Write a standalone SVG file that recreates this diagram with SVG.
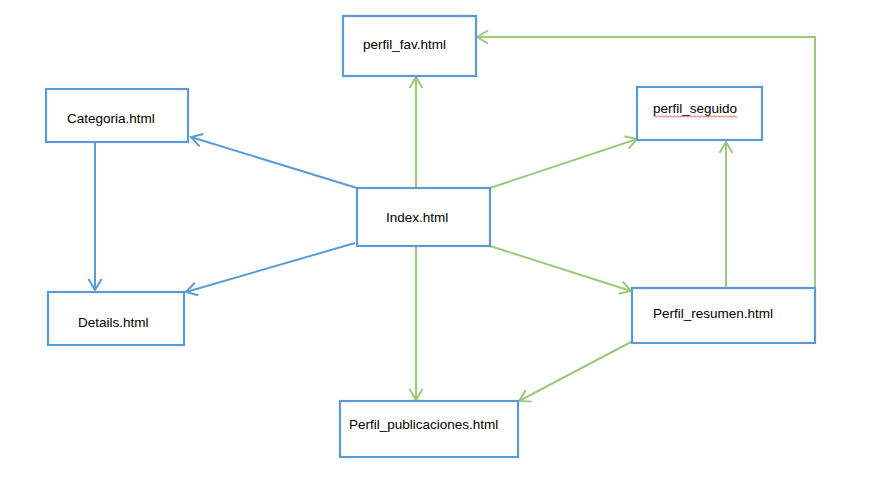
<svg xmlns="http://www.w3.org/2000/svg" width="891" height="482" viewBox="0 0 891 482">
<style>
.box{fill:#fff;stroke:#5B9BD5;stroke-width:2.2}
.lbl{font-family:"Liberation Sans",Arial,sans-serif;font-size:13.5px;fill:#000}
.b{fill:none;stroke:#5B9BD5;stroke-width:2}
.g{fill:none;stroke:#9CC97E;stroke-width:2}
</style>
<defs>
<marker id="ab" markerUnits="userSpaceOnUse" markerWidth="20" markerHeight="20" refX="0" refY="0" viewBox="-14 -10 18 20" orient="auto" overflow="visible">
<path d="M-11,-6.5 L0,0 L-11,6.5" fill="none" stroke="#5B9BD5" stroke-width="2"/>
</marker>
<marker id="ag" markerUnits="userSpaceOnUse" markerWidth="20" markerHeight="20" refX="0" refY="0" viewBox="-14 -10 18 20" orient="auto" overflow="visible">
<path d="M-11,-6.5 L0,0 L-11,6.5" fill="none" stroke="#9CC97E" stroke-width="2"/>
</marker>
</defs>
<rect width="891" height="482" fill="#fff"/>
<g id="connectors">
<line class="b" x1="95" y1="142" x2="95" y2="290" marker-end="url(#ab)"/>
<line class="b" x1="357" y1="188" x2="191" y2="137" marker-end="url(#ab)"/>
<line class="b" x1="355" y1="243" x2="186" y2="292" marker-end="url(#ab)"/>
<line class="g" x1="416" y1="188" x2="416" y2="77" marker-end="url(#ag)"/>
<line class="g" x1="490" y1="188" x2="637" y2="139" marker-end="url(#ag)"/>
<line class="g" x1="416" y1="246" x2="416" y2="400" marker-end="url(#ag)"/>
<line class="g" x1="490" y1="246" x2="631" y2="291" marker-end="url(#ag)"/>
<line class="g" x1="726" y1="288" x2="726" y2="142" marker-end="url(#ag)"/>
<polyline class="g" points="815,288 815,37 477,37" marker-end="url(#ag)"/>
<line class="g" x1="631" y1="342" x2="519" y2="401" marker-end="url(#ag)"/>
</g>
<g id="perfil_fav">
<rect class="box" x="343" y="16" width="133" height="60"/>
<text class="lbl" x="363" y="49">perfil_fav.html</text>
</g>
<g id="perfil_seguido">
<rect class="box" x="637" y="87" width="125" height="53"/>
<text class="lbl" x="653" y="113">perfil_seguido</text>
<path d="M653,116.5 q1,-1.5 2,0 t2,0 t2,0 t2,0 t2,0 t2,0 t2,0 t2,0 t2,0 t2,0 t2,0 t2,0 t2,0 t2,0 t2,0 t2,0 t2,0 t2,0 t2,0 t2,0 t2,0 t2,0 t2,0 t2,0 t2,0 t2,0 t2,0 t2,0 t2,0 t2,0 t2,0 t2,0 t2,0 t2,0 t2,0 t2,0 t2,0 t2,0 t2,0 t2,0 t2,0 t2,0" fill="none" stroke="#E04040" stroke-width="0.8"/>
</g>
<g id="categoria">
<rect class="box" x="46" y="89" width="142" height="53"/>
<text class="lbl" x="67" y="123">Categoria.html</text>
</g>
<g id="index">
<rect class="box" x="357" y="188" width="133" height="58"/>
<text class="lbl" x="386" y="222">Index.html</text>
</g>
<g id="details">
<rect class="box" x="48" y="292" width="136" height="53"/>
<text class="lbl" x="78" y="327">Details.html</text>
</g>
<g id="perfil_resumen">
<rect class="box" x="632" y="288" width="183" height="55"/>
<text class="lbl" x="653" y="318">Perfil_resumen.html</text>
</g>
<g id="perfil_publicaciones">
<rect class="box" x="340" y="401" width="178" height="56"/>
<text class="lbl" x="349" y="429">Perfil_publicaciones.html</text>
</g>
</svg>
